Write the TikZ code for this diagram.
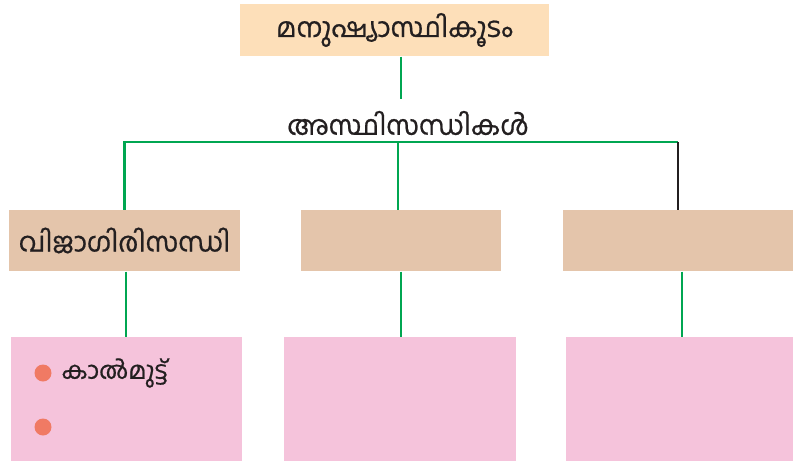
\documentclass[tikz,border=0pt]{standalone}
\usepackage{fontspec}
\newfontfamily\mlfont[Script=Malayalam, FakeBold=0.7]{Hind Kochi}
\definecolor{peach}{HTML}{FDDFB9}
\definecolor{tan}{HTML}{E4C5AB}
\definecolor{rose}{HTML}{F5C3DB}
\definecolor{dot}{HTML}{F07A64}
\definecolor{leaf}{HTML}{00A651}
\definecolor{ink}{HTML}{231F20}
\tikzset{
every picture/.style={
line width=1pt
}}
\usetikzlibrary{positioning}

\begin{document}
\begin{tikzpicture}[x=1pt, y=-1pt,
    every node/.style={font=\mlfont\fontsize{27}{31}\selectfont, text=ink},
    topbox/.style={fill=peach, minimum width=309pt, minimum height=52pt},
    jointbox/.style={fill=tan, minimum height=61pt},
    listbox/.style={fill=rose, minimum height=124pt},
    link/.style={leaf, line width=2.4pt},
    bullet/.style={circle, fill=dot, inner sep=0pt, minimum size=17pt}]
      \useasboundingbox (0,0) rectangle (793,461);
      % top level
      \node [topbox] (skel) at (394.5, 30) {\raisebox{-2pt}{മനുഷ്യാസ്ഥികൂടം}};
      \node [inner sep=0pt] (joints) at (408, 123) {അസ്ഥിസന്ധികൾ};
      \coordinate (hub) at (398, 142);
      % joint types
      \node [jointbox, minimum width=231pt] (hinge) at (124.5, 240.5) {വിജാഗിരിസന്ധി};
      \node [jointbox, minimum width=200pt] (midjoint) at (401, 240.5) {};
      \node [jointbox, minimum width=230pt] (rightjoint) at (678, 240.5) {};
      % examples
      \node [listbox, minimum width=231pt] (hingelist) at (126.5, 399) {};
      \node [listbox, minimum width=232pt] (midlist) at (400, 399) {};
      \node [listbox, minimum width=227pt] (rightlist) at (679.5, 399) {};
      \node [bullet] (b1) at (43, 373) {};
      \node [bullet] (b2) at (43, 427) {};
      \node [right=9pt of b1, inner sep=0pt, font=\mlfont\fontsize{24}{28}\selectfont] (knee) {കാൽമുട്ട്};
      % connectors
      \draw [link] ([xshift=6.5pt]skel.south) -- ++(0, 42);
      \draw [link] (hinge.north) |- (rightjoint.north |- hub);
      \draw [link] (hub) -- (hub |- midjoint.north);
      \draw [ink, line width=2.4pt] (rightjoint.north |- hub) -- (rightjoint.north);
      \draw [link] ([xshift=1.5pt]hinge.south) -- ([xshift=1.5pt]hinge.south |- hingelist.north);
      \draw [link] (midjoint.south) -- (midjoint.south |- midlist.north);
      \draw [link] ([xshift=4pt]rightjoint.south) -- ([xshift=4pt]rightjoint.south |- rightlist.north);
    \end{tikzpicture}
\end{document}
